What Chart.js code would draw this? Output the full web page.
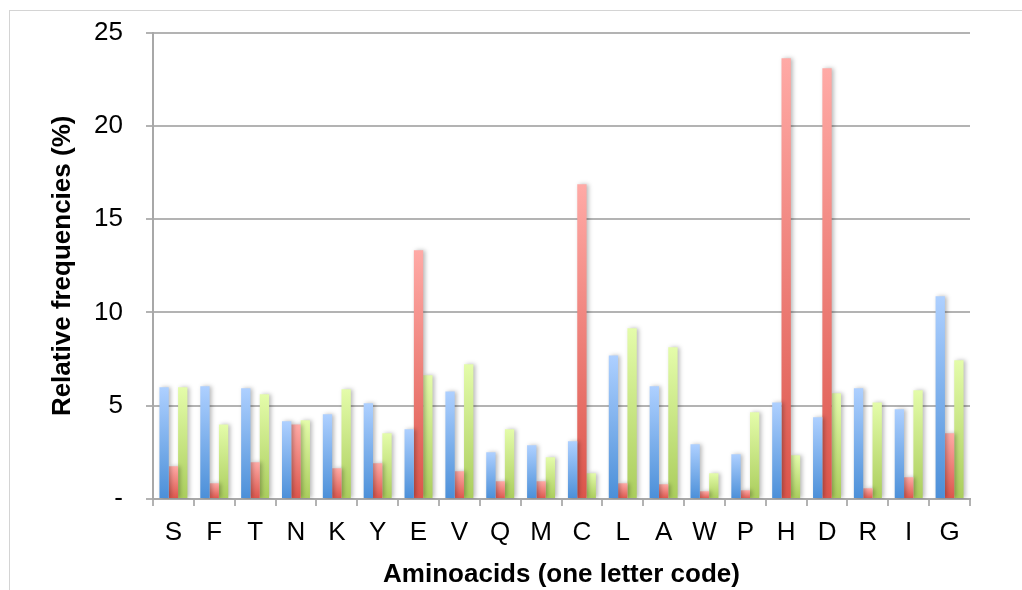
<!DOCTYPE html>
<html>
<head>
<meta charset="utf-8">
<script src="https://cdn.jsdelivr.net/npm/chart.js@4.4.1/dist/chart.umd.min.js"></script>
<style>
  html, body { margin: 0; padding: 0; background: #ffffff; }
  #wrap { position: relative; width: 1022px; height: 590px; overflow: hidden; }
  #frame { position: absolute; left: 9px; top: 10px; width: 1100px; height: 700px; border: 1px solid #d4d4d4; box-sizing: border-box; }
  #c { position: absolute; left: 0; top: 0; }
</style>
</head>
<body>
<div id="wrap">
  <div id="frame"></div>
  <canvas id="c" width="1022" height="590"></canvas>
</div>
<script>
const categories = ['S','F','T','N','K','Y','E','V','Q','M','C','L','A','W','P','H','D','R','I','G'];
const seriesBlue  = [5.99, 6.04, 5.94, 4.17, 4.54, 5.13, 3.74, 5.77, 2.50, 2.88, 3.09, 7.70, 6.04, 2.93, 2.40, 5.18, 4.38, 5.94, 4.81, 10.87];
const seriesRed   = [1.75, 0.84, 1.97, 4.00, 1.65, 1.92, 13.34, 1.49, 0.95, 0.95, 16.87, 0.84, 0.79, 0.41, 0.47, 23.63, 23.09, 0.57, 1.16, 3.52];
const seriesGreen = [5.99, 4.00, 5.61, 4.22, 5.88, 3.52, 6.63, 7.22, 3.74, 2.24, 1.38, 9.15, 8.13, 1.38, 4.65, 2.34, 5.67, 5.18, 5.83, 7.44];
const yTicks = [0, 5, 10, 15, 20, 25];
const yTickLabels = ['-', '5', '10', '15', '20', '25'];

const FONT = "'Liberation Sans', Arial, sans-serif";

function gradientFill(top, bottom) {
  return function(ctx) {
    const chart = ctx.chart;
    if (!chart.chartArea || ctx.type !== 'data') return bottom;
    const ys = chart.scales.y;
    const y0 = ys.getPixelForValue(ctx.raw);
    const y1 = ys.getPixelForValue(0);
    if (!isFinite(y0) || !isFinite(y1) || y1 - y0 < 1) return bottom;
    const g = chart.ctx.createLinearGradient(0, y0, 0, y1);
    g.addColorStop(0, top);
    g.addColorStop(1, bottom);
    return g;
  };
}

const shadowPlugin = {
  id: 'barShadow',
  beforeDatasetsDraw(chart) {
    const c = chart.ctx;
    c.save();
    c.shadowColor = 'rgba(0,0,0,0.28)';
    c.shadowBlur = 4;
    c.shadowOffsetX = 2;
    c.shadowOffsetY = 0;
  },
  afterDatasetsDraw(chart) {
    chart.ctx.restore();
  }
};

new Chart(document.getElementById('c'), {
  type: 'bar',
  data: {
    labels: categories,
    datasets: [
      { label: 'Series 1', data: seriesBlue,  backgroundColor: gradientFill('#aed0ff', '#4b8fd8'), borderWidth: 0 },
      { label: 'Series 2', data: seriesRed,   backgroundColor: gradientFill('#ffaaa6', '#dc554b'), borderWidth: 0 },
      { label: 'Series 3', data: seriesGreen, backgroundColor: gradientFill('#e4fcaa', '#aacd5c'), borderWidth: 0 }
    ]
  },
  plugins: [shadowPlugin],
  options: {
    responsive: false,
    animation: false,
    devicePixelRatio: 1,
    datasets: { bar: { categoryPercentage: 0.685, barPercentage: 1.0 } },
    layout: { padding: { left: 0, top: 32.7, right: 52, bottom: 0 } },
    plugins: { legend: { display: false }, tooltip: { enabled: false } },
    scales: {
      x: {
        grid: { display: true, drawOnChartArea: false, drawTicks: true, tickLength: 7, color: '#b3b3b3', lineWidth: 2, offset: true },
        border: { display: true, color: '#a8a8a8', width: 2 },
        ticks: { color: '#000000', font: { family: FONT, size: 26 }, padding: 11, maxRotation: 0, autoSkip: false },
        title: { display: true, text: 'Aminoacids (one letter code)', color: '#000000', font: { family: FONT, size: 26, weight: 'bold', lineHeight: 1.2 }, padding: { top: 0, bottom: 0 } },
        afterFit(scale) { scale.height = 91; scale.paddingLeft = 0; scale.paddingRight = 0; }
      },
      y: {
        min: 0, max: 25,
        afterBuildTicks(scale) { scale.ticks = yTicks.map(v => ({ value: v })); },
        grid: { color: '#b3b3b3', lineWidth: 2, tickLength: 7, drawTicks: true },
        border: { display: true, color: '#a8a8a8', width: 2 },
        ticks: {
          color: '#000000', font: { family: FONT, size: 26 }, padding: 23,
          callback(value) { const i = yTicks.indexOf(value); return i >= 0 ? yTickLabels[i] : ''; }
        },
        title: { display: true, text: 'Relative frequencies (%)', color: '#000000', font: { family: FONT, size: 26, weight: 'bold', lineHeight: 1.2 }, padding: { top: 47.4, bottom: 0 } },
        afterFit(scale) { scale.width = 153; scale.paddingTop = 0; scale.paddingBottom = 0; }
      }
    }
  }
});
</script>
</body>
</html>
